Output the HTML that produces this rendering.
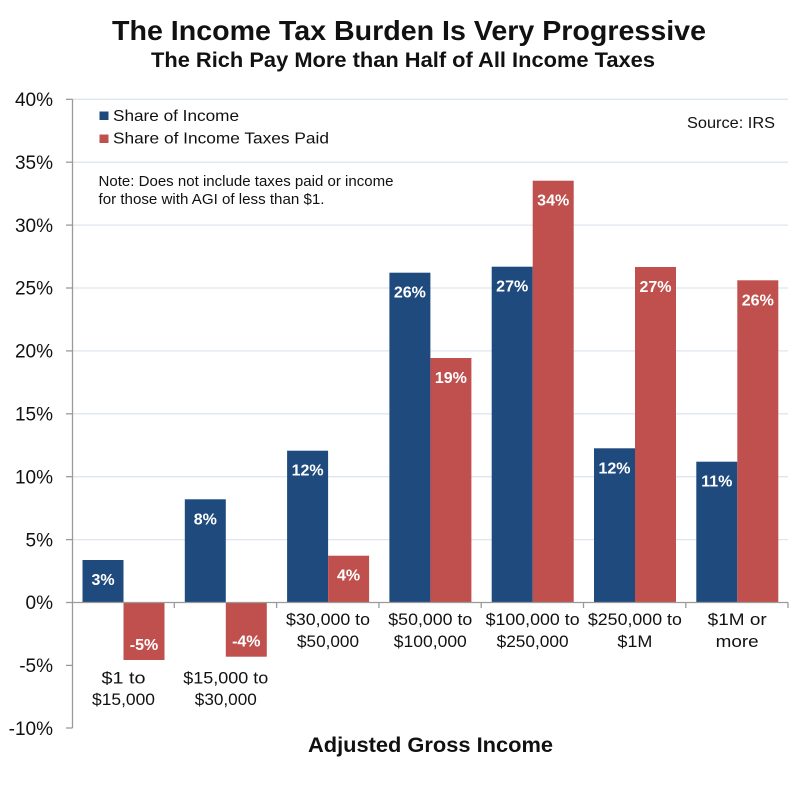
<!DOCTYPE html>
<html><head><meta charset="utf-8"><style>
html,body{margin:0;padding:0;background:#fff;}
svg{display:block;}
text{font-family:"Liberation Sans",sans-serif;fill:#111;}
.bl{font-weight:bold;fill:#fff;font-size:16px;text-anchor:middle;}
.yl{font-size:19px;text-anchor:end;}
.cl{font-size:17px;text-anchor:middle;}
</style></head><body>
<svg width="800" height="797" viewBox="0 0 800 797" xmlns="http://www.w3.org/2000/svg">
<rect width="800" height="797" fill="#fff"/>
<!-- titles -->
<text x="112" y="40" font-size="28" font-weight="bold" textLength="594" lengthAdjust="spacingAndGlyphs">The Income Tax Burden Is Very Progressive</text>
<text x="151" y="67" font-size="21" font-weight="bold" textLength="504" lengthAdjust="spacingAndGlyphs">The Rich Pay More than Half of All Income Taxes</text>
<!-- gridlines -->
<g stroke="#dfe6ef" stroke-width="1.3">
<line x1="72" y1="99.3" x2="788" y2="99.3"/>
<line x1="72" y1="162.2" x2="788" y2="162.2"/>
<line x1="72" y1="225.1" x2="788" y2="225.1"/>
<line x1="72" y1="288" x2="788" y2="288"/>
<line x1="72" y1="350.9" x2="788" y2="350.9"/>
<line x1="72" y1="413.8" x2="788" y2="413.8"/>
<line x1="72" y1="476.7" x2="788" y2="476.7"/>
<line x1="72" y1="539.6" x2="788" y2="539.6"/>
</g>
<!-- bars -->
<g fill="#1f4a7e">
<rect x="82.5" y="560" width="41" height="42.5"/>
<rect x="184.8" y="499.3" width="41" height="103.2"/>
<rect x="287.1" y="450.7" width="41" height="151.8"/>
<rect x="389.4" y="272.7" width="41" height="329.8"/>
<rect x="491.7" y="266.7" width="41" height="335.8"/>
<rect x="594" y="448.3" width="41" height="154.2"/>
<rect x="696.3" y="461.7" width="41" height="140.8"/>
</g>
<g fill="#c0504d">
<rect x="123.5" y="602.5" width="41" height="57.5"/>
<rect x="225.8" y="602.5" width="41" height="54.2"/>
<rect x="328.1" y="555.7" width="41" height="46.8"/>
<rect x="430.4" y="358" width="41" height="244.5"/>
<rect x="532.7" y="180.7" width="41" height="421.8"/>
<rect x="635" y="267" width="41" height="335.5"/>
<rect x="737.3" y="280.3" width="41" height="322.2"/>
</g>
<!-- bar labels -->
<text class="bl" x="103" y="585">3%</text>
<text class="bl" x="144" y="650">-5%</text>
<text class="bl" x="205.3" y="524.3">8%</text>
<text class="bl" x="246.3" y="646.7">-4%</text>
<text class="bl" x="307.6" y="475.7">12%</text>
<text class="bl" x="348.6" y="580.7">4%</text>
<text class="bl" x="409.9" y="297.7">26%</text>
<text class="bl" x="450.9" y="383">19%</text>
<text class="bl" x="512.2" y="291.7">27%</text>
<text class="bl" x="553.2" y="205.7">34%</text>
<text class="bl" x="614.5" y="473.3">12%</text>
<text class="bl" x="655.5" y="292">27%</text>
<text class="bl" x="716.8" y="486.7">11%</text>
<text class="bl" x="757.8" y="305.3">26%</text>
<!-- axes -->
<g stroke="#9a9a9a" stroke-width="1.3">
<line x1="72.5" y1="99.3" x2="72.5" y2="728"/>
<line x1="72" y1="602.5" x2="788" y2="602.5"/>
<line x1="66" y1="99.3" x2="72.5" y2="99.3"/>
<line x1="66" y1="162.2" x2="72.5" y2="162.2"/>
<line x1="66" y1="225.1" x2="72.5" y2="225.1"/>
<line x1="66" y1="288" x2="72.5" y2="288"/>
<line x1="66" y1="350.9" x2="72.5" y2="350.9"/>
<line x1="66" y1="413.8" x2="72.5" y2="413.8"/>
<line x1="66" y1="476.7" x2="72.5" y2="476.7"/>
<line x1="66" y1="539.6" x2="72.5" y2="539.6"/>
<line x1="66" y1="602.5" x2="72.5" y2="602.5"/>
<line x1="66" y1="665.4" x2="72.5" y2="665.4"/>
<line x1="66" y1="728" x2="72.5" y2="728"/>
<line x1="174.3" y1="602.5" x2="174.3" y2="608"/>
<line x1="276.6" y1="602.5" x2="276.6" y2="608"/>
<line x1="378.9" y1="602.5" x2="378.9" y2="608"/>
<line x1="481.2" y1="602.5" x2="481.2" y2="608"/>
<line x1="583.5" y1="602.5" x2="583.5" y2="608"/>
<line x1="685.8" y1="602.5" x2="685.8" y2="608"/>
<line x1="788" y1="602.5" x2="788" y2="608"/>
</g>
<!-- y labels -->
<text class="yl" x="53" y="106">40%</text>
<text class="yl" x="53" y="168.9">35%</text>
<text class="yl" x="53" y="231.8">30%</text>
<text class="yl" x="53" y="294.7">25%</text>
<text class="yl" x="53" y="357.6">20%</text>
<text class="yl" x="53" y="420.5">15%</text>
<text class="yl" x="53" y="483.4">10%</text>
<text class="yl" x="53" y="546.3">5%</text>
<text class="yl" x="53" y="609.2">0%</text>
<text class="yl" x="53" y="672.1">-5%</text>
<text class="yl" x="53" y="734.8">-10%</text>
<!-- category labels -->
<text class="cl" x="123.5" y="683.3" textLength="44" lengthAdjust="spacingAndGlyphs">$1 to</text>
<text class="cl" x="123.5" y="705" textLength="63" lengthAdjust="spacingAndGlyphs">$15,000</text>
<text class="cl" x="225.8" y="683.3" textLength="85" lengthAdjust="spacingAndGlyphs">$15,000 to</text>
<text class="cl" x="225.8" y="705" textLength="62" lengthAdjust="spacingAndGlyphs">$30,000</text>
<text class="cl" x="328" y="625" textLength="84" lengthAdjust="spacingAndGlyphs">$30,000 to</text>
<text class="cl" x="328" y="647" textLength="62" lengthAdjust="spacingAndGlyphs">$50,000</text>
<text class="cl" x="430.3" y="625" textLength="84" lengthAdjust="spacingAndGlyphs">$50,000 to</text>
<text class="cl" x="430.3" y="647" textLength="73" lengthAdjust="spacingAndGlyphs">$100,000</text>
<text class="cl" x="532.6" y="625" textLength="94" lengthAdjust="spacingAndGlyphs">$100,000 to</text>
<text class="cl" x="532.6" y="647" textLength="72" lengthAdjust="spacingAndGlyphs">$250,000</text>
<text class="cl" x="634.9" y="625" textLength="94" lengthAdjust="spacingAndGlyphs">$250,000 to</text>
<text class="cl" x="634.9" y="647" textLength="35" lengthAdjust="spacingAndGlyphs">$1M</text>
<text class="cl" x="737.2" y="625" textLength="59" lengthAdjust="spacingAndGlyphs">$1M or</text>
<text class="cl" x="737.2" y="647" textLength="43" lengthAdjust="spacingAndGlyphs">more</text>
<!-- axis title -->
<text x="308" y="752" font-size="21" font-weight="bold" textLength="245" lengthAdjust="spacingAndGlyphs">Adjusted Gross Income</text>
<!-- legend -->
<rect x="99.5" y="111.5" width="9" height="8.5" fill="#1f4a7e"/>
<rect x="99.5" y="134.5" width="9" height="8.5" fill="#c0504d"/>
<text x="113" y="121" font-size="16" textLength="126" lengthAdjust="spacingAndGlyphs">Share of Income</text>
<text x="113" y="143.5" font-size="16" textLength="216" lengthAdjust="spacingAndGlyphs">Share of Income Taxes Paid</text>
<text x="687" y="128" font-size="16" textLength="88" lengthAdjust="spacingAndGlyphs">Source: IRS</text>
<!-- note -->
<text x="98.5" y="186" font-size="14.5" textLength="295" lengthAdjust="spacingAndGlyphs">Note: Does not include taxes paid or income</text>
<text x="98.5" y="204" font-size="14.5" textLength="226" lengthAdjust="spacingAndGlyphs">for those with AGI of less than $1.</text>
</svg>
</body></html>
